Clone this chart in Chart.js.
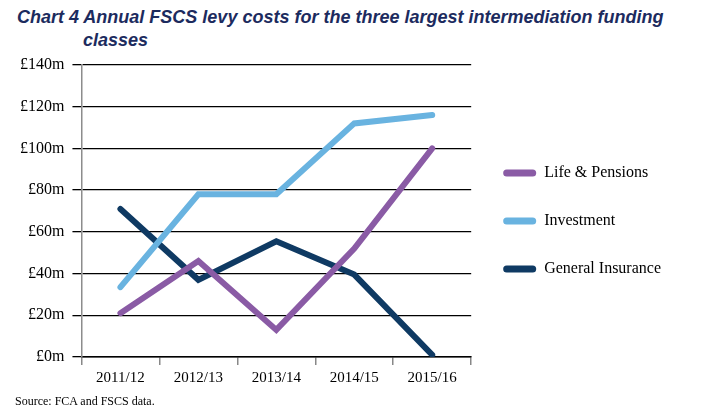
<!DOCTYPE html>
<html lang="en">
<head>
  <meta charset="UTF-8">
  <title>Chart 4 Annual FSCS levy costs</title>
  <script src="https://cdn.jsdelivr.net/npm/chart.js"></script>
</head>
<style>
  body { margin: 0; background: #fff; }
  .title {
    position: absolute; left: 17px; top: 6px;
    font: italic bold 18px 'Liberation Sans', Arial, sans-serif;
    color: #1c2b5e; line-height: 23px; white-space: nowrap;
  }
  .title .second { padding-left: 66px; }
  .source {
    position: absolute; left: 15px; top: 394px;
    font: 12px 'Liberation Serif', 'Times New Roman', serif; color: #000;
  }
  .chart-container { position: absolute; left: 0; top: 0; width: 712px; height: 419px; }
</style>
<body>
  <div class="title">Chart 4 Annual FSCS levy costs for the three largest intermediation funding<br><span class="second">classes</span></div>
  <div class="chart-container">
    <canvas id="chartCanvas" width="712" height="419"></canvas>
  </div>
  <div class="source">Source: FCA and FSCS data.</div>

  <script>
    const years = ['2011/12', '2012/13', '2013/14', '2014/15', '2015/16'];
    const lifePensions = [21, 46, 13, 52, 100];
    const investment = [33.5, 78, 78, 112, 116];
    const generalInsurance = [71, 37, 55.5, 39.5, 1];
    const yTicks = [0, 20, 40, 60, 80, 100, 120, 140];

    const serif = "'Liberation Serif', 'Times New Roman', serif";

    const ctx = document.getElementById('chartCanvas').getContext('2d');
    const chart = new Chart(ctx, {
      type: 'line',
      data: {
        labels: years,
        datasets: [{
          label: 'Life & Pensions',
          data: lifePensions,
          borderColor: '#8a5ba5',
          backgroundColor: '#8a5ba5'
        }, {
          label: 'Investment',
          data: investment,
          borderColor: '#69b3e0',
          backgroundColor: '#69b3e0'
        }, {
          label: 'General Insurance',
          data: generalInsurance,
          borderColor: '#0f3a63',
          backgroundColor: '#0f3a63'
        }]
      },
      options: {
        responsive: false,
        animation: false,
        layout: { padding: { top: 65, bottom: 28, left: 12, right: 41 } },
        elements: {
          line: { borderWidth: 6, tension: 0, borderCapStyle: 'round', borderJoinStyle: 'miter' },
          point: { radius: 0, hoverRadius: 0 }
        },
        plugins: {
          tooltip: { enabled: false },
          legend: {
            position: 'right',
            fullSize: false,
            maxWidth: 260,
            // empty title only pushes the entries down a little
            title: { display: true, text: ' ', font: { size: 10 }, padding: 4 },
            labels: {
              font: { family: serif, size: 16 },
              color: '#000',
              boxWidth: 33,
              boxHeight: 7,
              useBorderRadius: true,
              borderRadius: 3.5,
              padding: 32,
              generateLabels(chart) {
                const items = Chart.defaults.plugins.legend.labels.generateLabels(chart);
                items.forEach(i => { i.lineWidth = 0; i.fillStyle = i.strokeStyle; });
                return items;
              }
            }
          }
        },
        scales: {
          x: {
            offset: true,
            grid: { offset: true, drawOnChartArea: false, drawTicks: true, tickLength: 8, color: '#888', lineWidth: 1.5 },
            border: { display: true, color: '#000', width: 1.5 },
            ticks: { font: { family: serif, size: 15 }, color: '#000', padding: 4 }
          },
          y: {
            min: 0,
            max: 140,
            afterBuildTicks(scale) { scale.ticks = yTicks.map(v => ({ value: v })); },
            grid: { color: '#000', lineWidth: 1.3, tickLength: 9 },
            border: { display: true, color: '#8c8c8c', width: 1.5 },
            ticks: {
              font: { family: serif, size: 16 },
              color: '#000',
              padding: 8,
              callback: v => '£' + v + 'm'
            }
          }
        }
      }
    });
  </script>
</body>
</html>
